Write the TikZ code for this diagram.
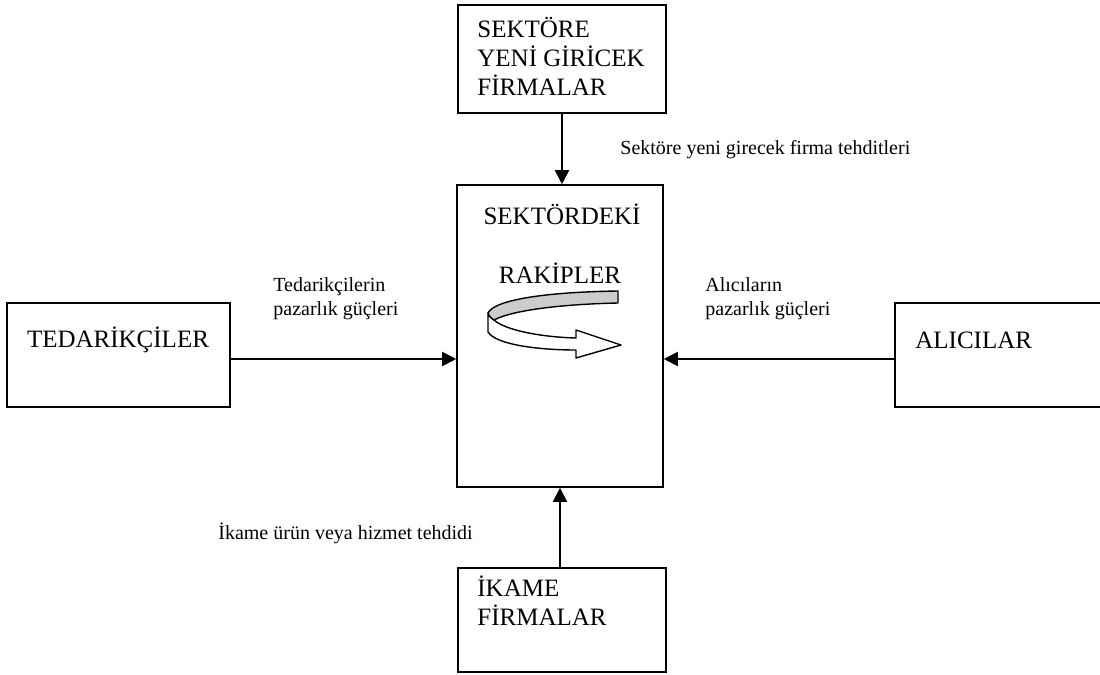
\documentclass[tikz,border=0pt]{standalone}
\usepackage{fontspec}
\setmainfont{Liberation Serif}
\usepackage{tikz}
\usetikzlibrary{arrows.meta, positioning, calc}

\tikzset{
  kutu/.style={draw, line width=0.8pt, inner sep=0pt},
  kutuyazi/.style={font=\fontsize{12.5}{14.5}\selectfont, align=left, inner sep=0pt},
  etiket/.style={font=\fontsize{10}{12}\selectfont, align=left, inner sep=0pt},
  ok/.style={line width=1pt, -{Triangle[length=7pt, width=7pt]}}
}

\begin{document}
\begin{tikzpicture}[x=0.5pt, y=-0.5pt]
\useasboundingbox (0,0) rectangle (1100,675);

% Kutular
\node[kutu, minimum width=104pt, minimum height=54pt] (giris) at (562,59) {};
\node[kutu, minimum width=103pt, minimum height=151pt] (rakip) at (560,336) {};
\node[kutu, minimum width=111.5pt, minimum height=52pt] (tedarik) at (118.5,355) {};
\node[kutu, minimum width=108pt, minimum height=52pt] (alici) at (1003,355) {};
\node[kutu, minimum width=104pt, minimum height=52pt] (ikame) at (562,620) {};

% Kutu yazilari
\node[kutuyazi, anchor=north west] (girisyazi) at (477,17) {SEKTÖRE\\YENİ GİRİCEK\\FİRMALAR};
\node[kutuyazi] (sektor) at (562,214) {SEKTÖRDEKİ};
\node[kutuyazi] (rakipler) at (560,273) {RAKİPLER};
\node[kutuyazi] (tedarikyazi) at (118,340) {TEDARİKÇİLER};
\node[kutuyazi, anchor=west] (aliciyazi) at (915,340) {ALICILAR};
\node[kutuyazi, anchor=north west] (ikameyazi) at (477,575) {İKAME\\FİRMALAR};

% Oklar
\draw[ok] (giris.south) -- (giris.south |- rakip.north);
\draw[ok] (tedarik.east |- 0,359) -- (rakip.west |- 0,359);
\draw[ok] (alici.west |- 0,359) -- (rakip.east |- 0,359);
\draw[ok] (ikame.north -| rakip.south) -- (rakip.south);

% Etiketler
\node[etiket, anchor=west] (girisetiket) at (620,150) {Sektöre yeni girecek firma tehditleri};
\node[etiket, anchor=west] (tedariketiket) at (273,299) {Tedarikçilerin\\pazarlık güçleri};
\node[etiket, anchor=west] (alicietiket) at (705,299) {Alıcıların\\pazarlık güçleri};
\node[etiket, anchor=west] (ikameetiket) at (218,533) {İkame ürün veya hizmet tehdidi};

% Rekabet oku (seridin beyaz alt kismi)
\draw[fill=white, line width=0.7pt, line join=round]
  (488,313) -- (488,332) .. controls (496,345) and (540,350) .. (576,350)
  -- (576,358) -- (621,345) -- (576,330) -- (576,338)
  .. controls (540,337) and (505,330) .. (494,320)
  .. controls (490,317) and (488,315) .. (488,313) -- cycle;
% ust gri kisim
\draw[fill=black!20, line width=0.7pt, line join=round]
  (618,291) -- (618,303) .. controls (570,304) and (515,309) .. (494,320)
  .. controls (490,317) and (488,315) .. (488,313)
  .. controls (495,299) and (550,292) .. (618,291) -- cycle;
\end{tikzpicture}
\end{document}
